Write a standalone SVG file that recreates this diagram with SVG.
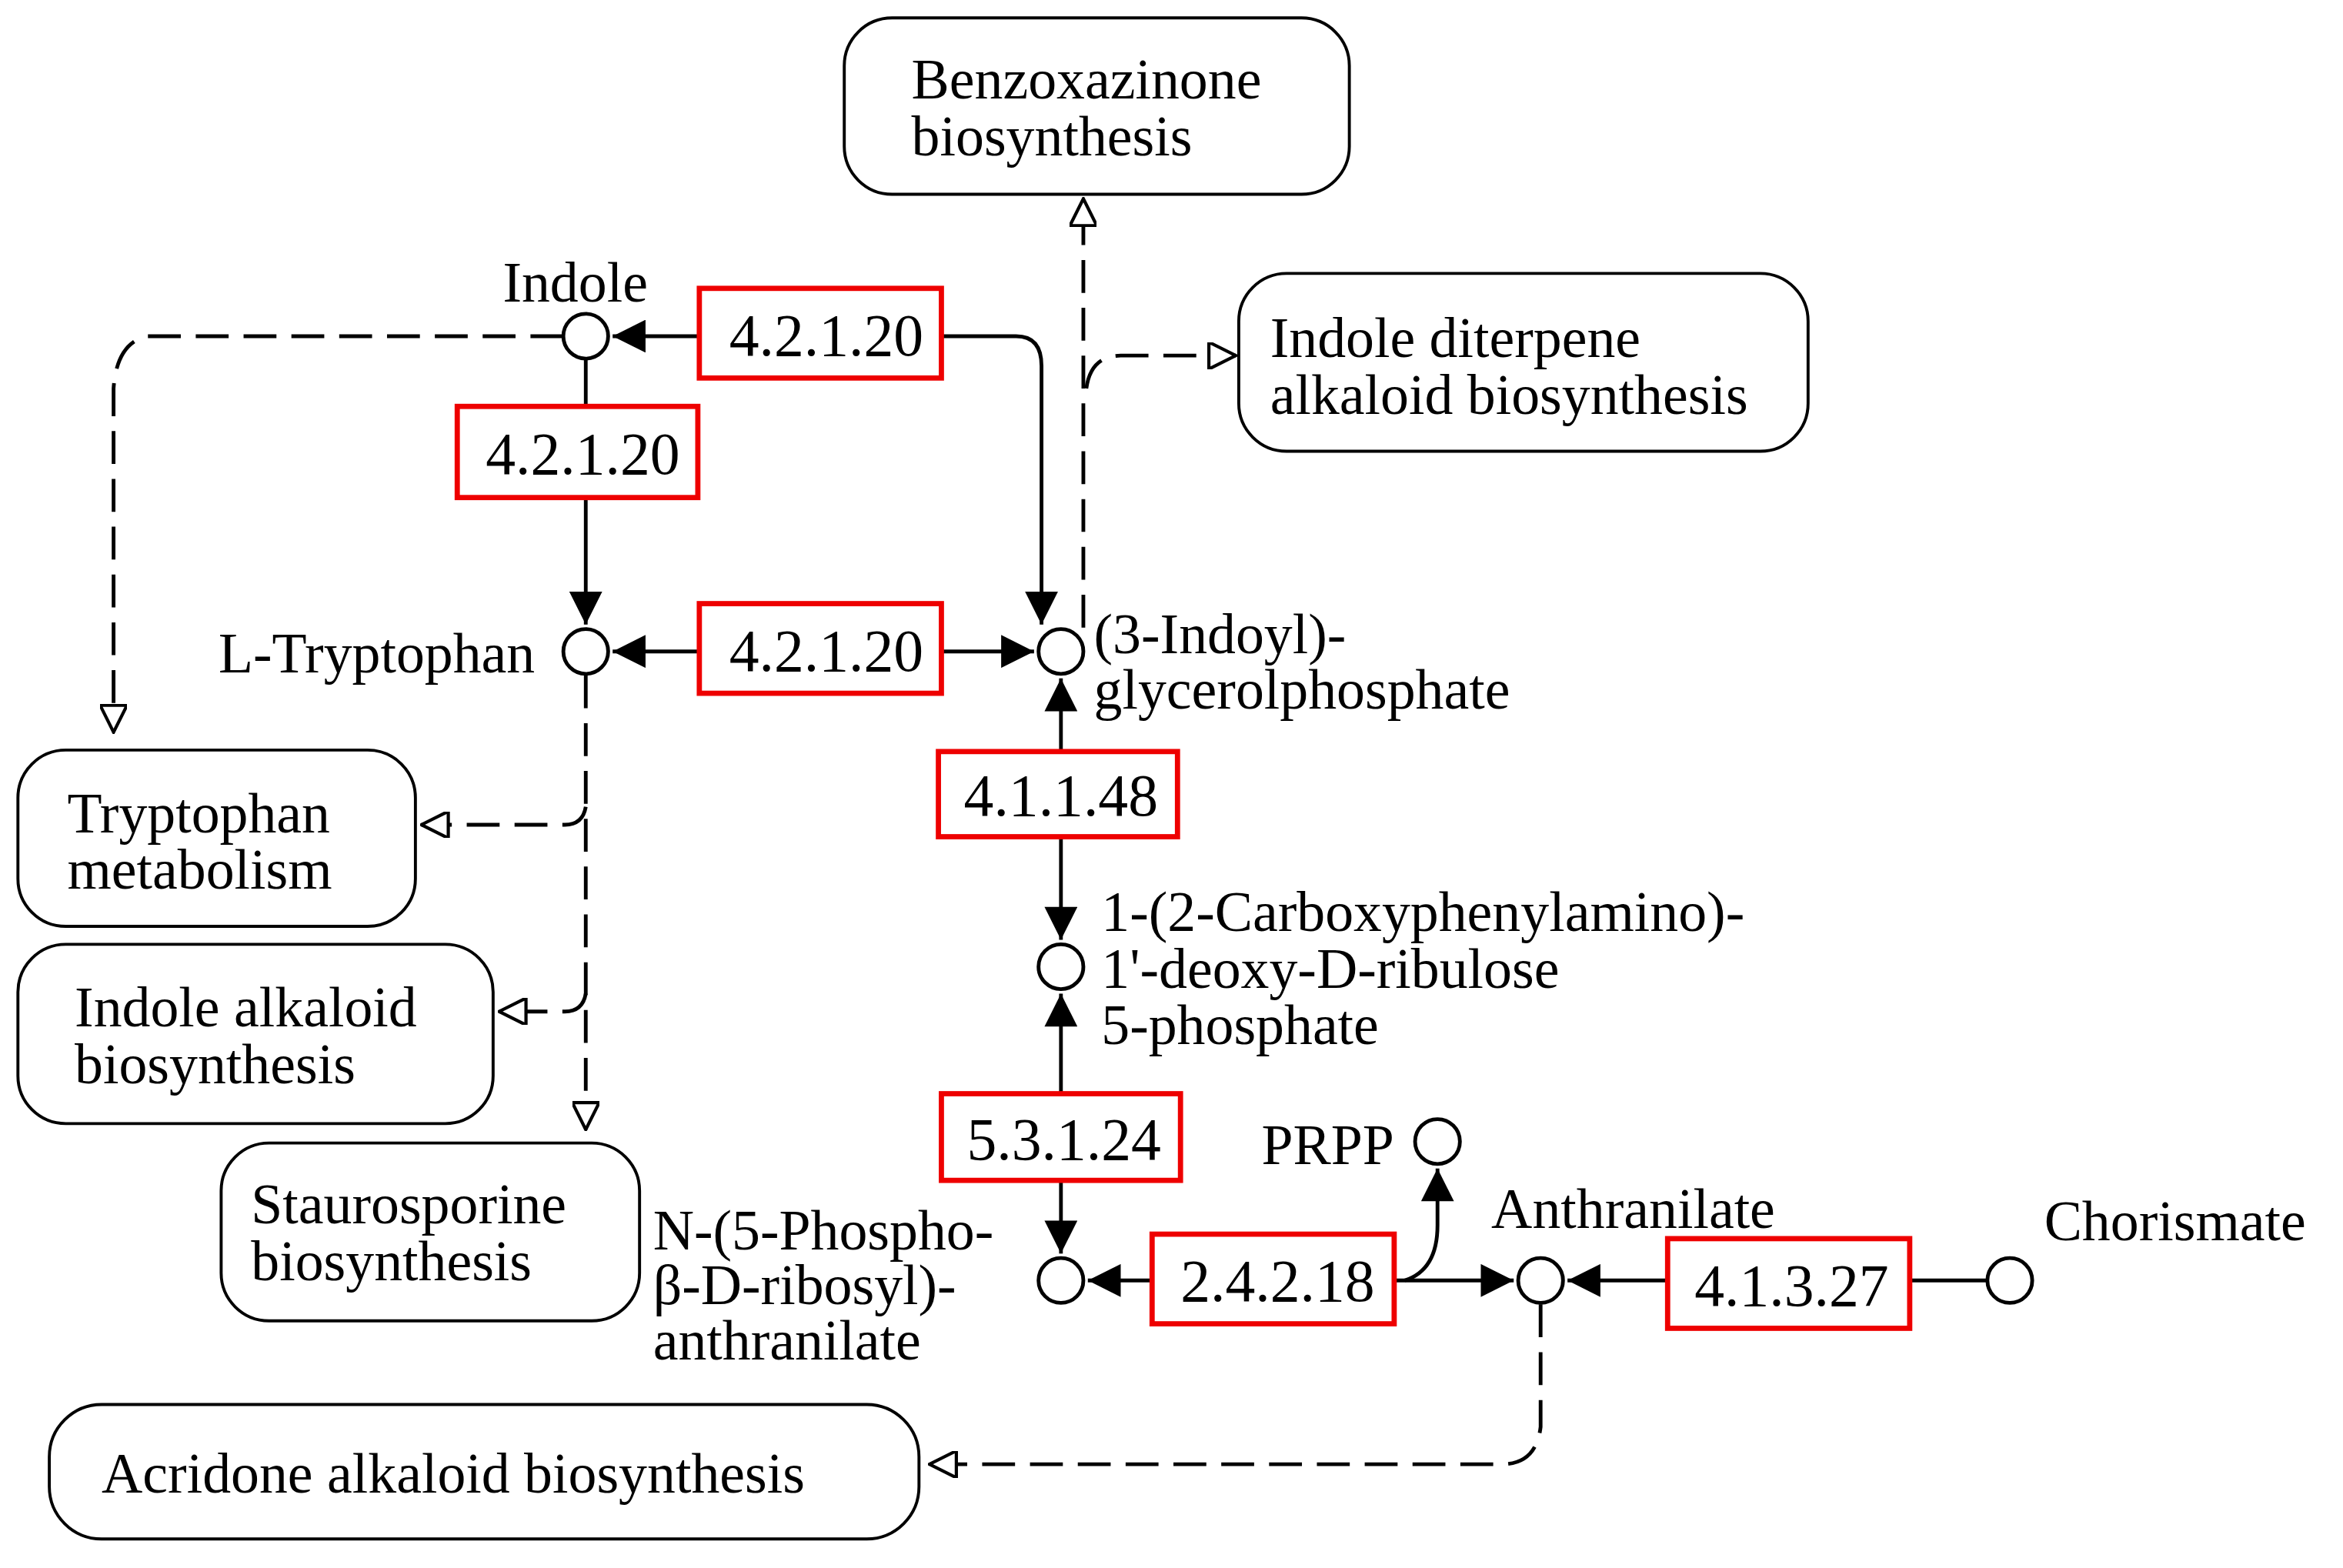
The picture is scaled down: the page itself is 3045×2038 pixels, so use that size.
<svg xmlns="http://www.w3.org/2000/svg" width="3045" height="2038" viewBox="0 0 3045 2038">
<style>
text{font-family:"Liberation Serif","DejaVu Serif",serif;font-size:38px;fill:#000}
.ec rect{fill:#fff;stroke:#e00;stroke-width:3.5}
.ec text{text-anchor:middle;font-size:40px}
.map rect{fill:#fff;stroke:#000;stroke-width:2}
.cpd circle{fill:#fff;stroke:#000;stroke-width:2.5}
.s{fill:none;stroke:#000;stroke-width:2.5}
.d{fill:none;stroke:#000;stroke-width:2.5;stroke-dasharray:22 10}
</style>
<rect width="3045" height="2038" fill="#fff"/>
<g transform="scale(1.942)">
<defs>
<marker id="F" viewBox="0 0 10 10" refX="10" refY="5" markerWidth="24" markerHeight="22" orient="auto" markerUnits="userSpaceOnUse"><path d="M0,0L10,5L0,10z" fill="#000"/></marker>
<marker id="H" viewBox="0 0 10 10" refX="10" refY="5" markerWidth="20" markerHeight="18" orient="auto" markerUnits="userSpaceOnUse"><path d="M0,0L10,5L0,10z" fill="#fff" stroke="#000" stroke-width="1.2"/></marker>
</defs>
<g id="connectors">
<path class="s" d="M468,225H410" marker-end="url(#F)"/>
<path class="s" d="M630,225H680Q697,225 697,245V418" marker-end="url(#F)"/>
<path class="s" d="M392,241V272"/>
<path class="s" d="M392,333V418" marker-end="url(#F)"/>
<path class="s" d="M468,436H410" marker-end="url(#F)"/>
<path class="s" d="M630,436H692" marker-end="url(#F)"/>
<path class="s" d="M710,503V454" marker-end="url(#F)"/>
<path class="s" d="M710,560V629" marker-end="url(#F)"/>
<path class="s" d="M710,732V665" marker-end="url(#F)"/>
<path class="s" d="M710,790V839" marker-end="url(#F)"/>
<path class="s" d="M771,857H728" marker-end="url(#F)"/>
<path class="s" d="M933,857H1013" marker-end="url(#F)"/>
<path class="s" d="M940,857Q962,850 962,820V782" marker-end="url(#F)"/>
<path class="s" d="M1116,857H1049" marker-end="url(#F)"/>
<path class="s" d="M1278,857H1330"/>
<path class="d" d="M377,225H98Q78,230 76,260V490" marker-end="url(#H)"/>
<path class="d" d="M392,452V756" marker-end="url(#H)"/>
<path class="d" d="M392,540Q390,552 378,552H282" marker-end="url(#H)"/>
<path class="d" d="M392,665Q390,677 378,677H334" marker-end="url(#H)"/>
<path class="d" d="M725,420V133" marker-end="url(#H)"/>
<path class="d" d="M727,260Q730,238 750,238H827" marker-end="url(#H)"/>
<path class="d" d="M1031,873V955Q1028,980 1005,980H622" marker-end="url(#H)"/>
</g>
<g id="maps" class="map">
<g id="m1"><rect x="565" y="12" width="338" height="118" rx="32"/><text x="610" y="66">Benzoxazinone</text><text x="610" y="104">biosynthesis</text></g>
<g id="m2"><rect x="829" y="183" width="381" height="119" rx="32"/><text x="850" y="239">Indole diterpene</text><text x="850" y="277">alkaloid biosynthesis</text></g>
<g id="m3"><rect x="12" y="502" width="266" height="118" rx="32"/><text x="45" y="557">Tryptophan</text><text x="45" y="595">metabolism</text></g>
<g id="m4"><rect x="12" y="632" width="318" height="120" rx="32"/><text x="50" y="687">Indole alkaloid</text><text x="50" y="725">biosynthesis</text></g>
<g id="m5"><rect x="148" y="765" width="280" height="119" rx="32"/><text x="168" y="819">Staurosporine</text><text x="168" y="857">biosynthesis</text></g>
<g id="m6"><rect x="33" y="940" width="582" height="90" rx="35"/><text x="68" y="999">Acridone alkaloid biosynthesis</text></g>
</g>
<g id="enzymes" class="ec">
<g id="e1"><rect x="468" y="193" width="162" height="60"/><text x="553" y="238">4.2.1.20</text></g>
<g id="e2"><rect x="306" y="272" width="161" height="61"/><text x="390" y="317">4.2.1.20</text></g>
<g id="e3"><rect x="468" y="404" width="162" height="60"/><text x="553" y="449">4.2.1.20</text></g>
<g id="e4"><rect x="628" y="503" width="160" height="57"/><text x="710" y="546">4.1.1.48</text></g>
<g id="e5"><rect x="630" y="732" width="160" height="58"/><text x="712" y="776">5.3.1.24</text></g>
<g id="e6"><rect x="771" y="826" width="162" height="60"/><text x="855" y="871">2.4.2.18</text></g>
<g id="e7"><rect x="1116" y="829" width="162" height="60"/><text x="1199" y="874">4.1.3.27</text></g>
</g>
<g id="compounds" class="cpd">
<g id="c1"><circle cx="392" cy="225" r="15"/><text x="385" y="202" text-anchor="middle">Indole</text></g>
<g id="c2"><circle cx="392" cy="436" r="15"/><text x="358" y="450" text-anchor="end">L-Tryptophan</text></g>
<g id="c3"><circle cx="710" cy="436" r="15"/><text x="732" y="437">(3-Indoyl)-</text><text x="732" y="474">glycerolphosphate</text></g>
<g id="c4"><circle cx="710" cy="647" r="15"/><text x="737" y="623">1-(2-Carboxyphenylamino)-</text><text x="737" y="661">1'-deoxy-D-ribulose</text><text x="737" y="699">5-phosphate</text></g>
<g id="c5"><circle cx="710" cy="857" r="15"/><text x="437" y="836">N-(5-Phospho-</text><text x="437" y="873">β-D-ribosyl)-</text><text x="437" y="910">anthranilate</text></g>
<g id="c6"><circle cx="962" cy="764" r="15"/><text x="933" y="779" text-anchor="end">PRPP</text></g>
<g id="c7"><circle cx="1031" cy="857" r="15"/><text x="998" y="822">Anthranilate</text></g>
<g id="c8"><circle cx="1345" cy="857" r="15"/><text x="1368" y="830">Chorismate</text></g>
</g>
</g>
</svg>
